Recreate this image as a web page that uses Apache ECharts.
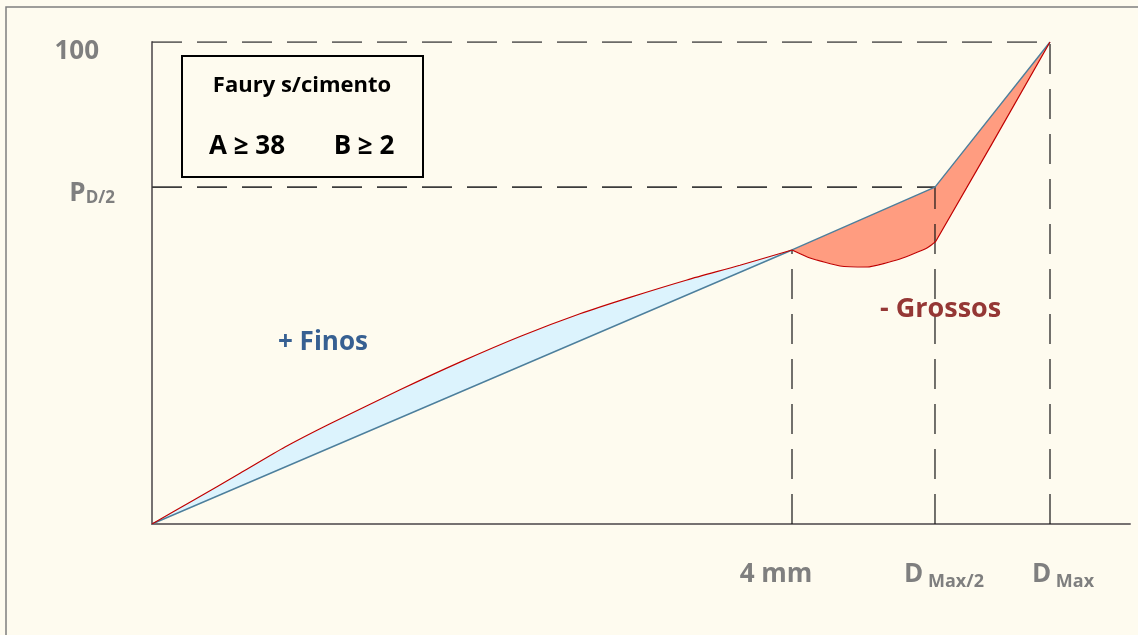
<!DOCTYPE html>
<html><head><meta charset="utf-8">
<script src="https://cdn.jsdelivr.net/npm/echarts@6/dist/echarts.min.js"></script>
<style>html,body{margin:0;padding:0;background:#fefbef;}#c{width:1138px;height:635px;}</style>
</head><body><div id="c"></div><script>
// Reference (straight) grading line: origin, 4 mm, Dmax/2, Dmax
const refX = [0, 65.44, 80.06, 91.82];
const refY = [0, 56.85, 69.9, 100];
// Real curve, fine part (above reference -> "+ Finos")
const finosX = [0, 4.19, 9.0, 13.6, 18.2, 25.36, 31.49, 37.63, 43.76, 48.88, 54.7, 60.12, 65.44];
const finosY = [0, 4.89, 10.51, 15.96, 20.79, 27.84, 33.58, 38.91, 43.62, 47.02, 50.63, 53.68, 56.85];
// Real curve, coarse part (below reference -> "- Grossos")
const grossosX = [65.44, 67.28, 70.35, 73.11, 76.48, 79.24, 80.16, 91.82];
const grossosY = [56.85, 55.19, 53.53, 53.32, 54.98, 57.26, 58.71, 100];
// Tick labels
const xTickValues = [65.44, 80.06, 91.82];
const xTickMain = ['4 mm', 'D', 'D'];
const xTickSub = ['', ' Max/2', ' Max'];
const yTickValues = [70, 100];
const yTickMain = ['P', '100'];
const yTickSub = ['D/2', ''];

const zip = (xs, ys) => xs.map((x, i) => [x, ys[i]]);
const ref = zip(refX, refY);
const finos = zip(finosX, finosY);
const grossos = zip(grossosX, grossosY);
const refFine = ref.filter(p => p[0] <= finosX[finosX.length - 1]);
const refCoarse = ref.filter(p => p[0] >= grossosX[0]);

function polySeries(pts, color) {
  return {
    type: 'custom', z: 1, silent: true, data: [0],
    renderItem: (params, api) => ({
      type: 'polygon',
      shape: { points: pts.map(p => api.coord(p)), smooth: 0 },
      style: { fill: color, stroke: null }
    })
  };
}
const guides = [];
for (let i = 1; i < ref.length; i++) {
  guides.push({ pts: [[refX[i], 0], [refX[i], refY[i]]], color: '#141414', w: 1.2 });
}
for (let i = 2; i < ref.length; i++) {
  guides.push({ pts: [[0, refY[i]], [refX[i], refY[i]]], color: '#3c3c3c', w: 1.6 });
}
const guideSeries = guides.map(g => ({
  type: 'line', z: 2, silent: true, showSymbol: false, data: g.pts,
  lineStyle: { color: g.color, width: g.w, type: [30, 15] }
}));

const F = '"Open Sans", "Noto Sans", sans-serif';
const chart = echarts.init(document.getElementById('c'));
chart.setOption({
  backgroundColor: '#fefbef',
  animation: false,
  grid: { left: 152, top: 42, right: 8, bottom: 111 },
  xAxis: {
    type: 'value', min: 0, max: 100,
    splitLine: { show: false },
    axisLine: { lineStyle: { color: '#767171', width: 2 } },
    axisTick: { show: false },
    axisLabel: {
      customValues: xTickValues, margin: 35,
      formatter: v => {
        const i = xTickValues.indexOf(v);
        if (i < 0) return '';
        return '{m' + i + '|' + xTickMain[i] + '}' + (xTickSub[i] ? '{s|' + xTickSub[i] + '}' : '');
      },
      rich: {
        m0: { fontFamily: F, fontWeight: 'bold', fontSize: 26, color: '#7f7f7f', padding: [0, 32, 0, 0], lineHeight: 32 },
        m1: { fontFamily: F, fontWeight: 'bold', fontSize: 26, color: '#7f7f7f', padding: [0, 0, 0, 18], lineHeight: 32 },
        m2: { fontFamily: F, fontWeight: 'bold', fontSize: 26, color: '#7f7f7f', padding: [0, 0, 0, 26], lineHeight: 32 },
        s: { fontFamily: F, fontWeight: 'bold', fontSize: 18, color: '#7f7f7f', verticalAlign: 'bottom', lineHeight: 22, padding: [8, 0, 0, 0] }
      }
    }
  },
  yAxis: {
    type: 'value', min: 0, max: 100,
    splitLine: { show: false },
    axisLine: { show: true, lineStyle: { color: '#767171', width: 2 } },
    axisTick: { show: false },
    axisLabel: {
      customValues: yTickValues, margin: 37,
      formatter: v => {
        const i = yTickValues.indexOf(v);
        if (i < 0) return '';
        return '{m' + i + '|' + yTickMain[i] + '}' + (yTickSub[i] ? '{s|' + yTickSub[i] + '}' : '');
      },
      rich: {
        m0: { fontFamily: F, fontWeight: 'bold', fontSize: 26, color: '#7f7f7f', padding: [14, 0, 0, 0] },
        m1: { fontFamily: F, fontWeight: 'bold', fontSize: 26, color: '#7f7f7f', padding: [20, 16, 0, 0] },
        s: { fontFamily: F, fontWeight: 'bold', fontSize: 17, color: '#7f7f7f', verticalAlign: 'bottom', padding: [22, 0, 0, 0] }
      }
    }
  },
  series: [
    polySeries(finos.concat(refFine.slice().reverse()), '#dcf3fd'),
    polySeries(grossos.concat(refCoarse.slice().reverse()), '#ff9c80'),
    ...guideSeries,
    { type: 'line', z: 3, silent: true, showSymbol: false, data: ref,
      lineStyle: { color: '#4d7f9c', width: 1.4 } },
    { type: 'line', z: 4, silent: true, showSymbol: false, data: finos, smooth: 0.25,
      lineStyle: { color: '#c00000', width: 1.2 } },
    { type: 'line', z: 4, silent: true, showSymbol: false, data: grossos, smooth: 0.15,
      lineStyle: { color: '#c00000', width: 1.2 } }
  ],
  graphic: [
    { type: 'polyline', silent: true, shape: { points: [[6, 635], [6, 7], [1138, 7]] },
      style: { stroke: '#7f7f7f', lineWidth: 1.5, fill: null } },
    { type: 'rect', silent: true, shape: { x: 182, y: 56, width: 241, height: 121 },
      style: { stroke: '#000', lineWidth: 2, fill: '#fefbef' }, z: 10 },
    { type: 'text', z: 11, style: { x: 302, y: 86, text: 'Faury s/cimento', align: 'center', verticalAlign: 'middle',
      font: 'bold 22px ' + F, fill: '#000' } },
    { type: 'text', z: 11, style: { x: 247, y: 147, text: 'A ≥ 38', align: 'center', verticalAlign: 'middle',
      font: 'bold 26px ' + F, fill: '#000' } },
    { type: 'text', z: 11, style: { x: 364, y: 147, text: 'B ≥ 2', align: 'center', verticalAlign: 'middle',
      font: 'bold 26px ' + F, fill: '#000' } },
    { type: 'text', z: 11, style: { x: 278, y: 343, text: '+ Finos', align: 'left', verticalAlign: 'middle',
      font: 'bold 26px ' + F, fill: '#376092' } },
    { type: 'text', z: 11, style: { x: 880, y: 309, text: '- Grossos', align: 'left', verticalAlign: 'middle',
      font: 'bold 27px ' + F, fill: '#953735' } }
  ]
});
</script></body></html>
